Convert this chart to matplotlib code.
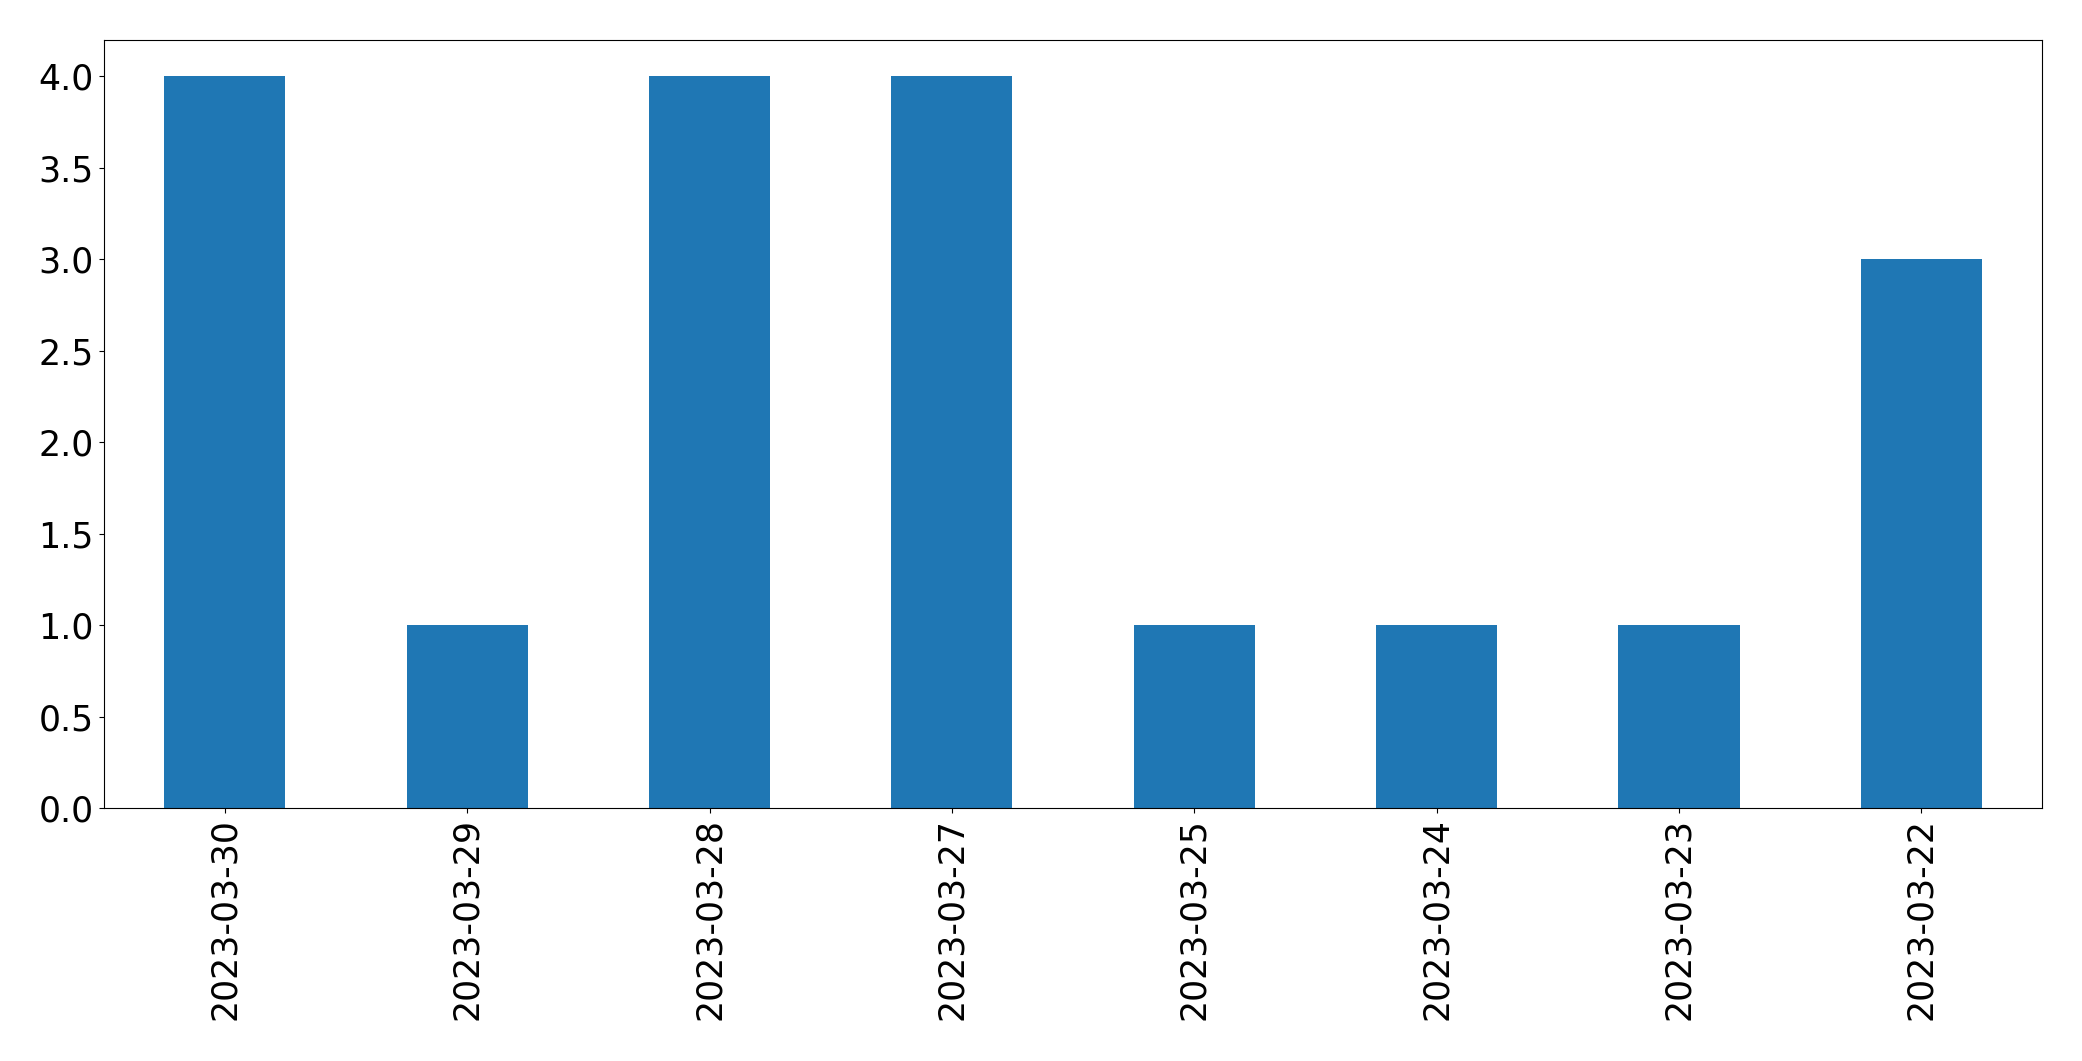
import pandas as pd
import matplotlib.pyplot as plt

# Counts per day
dates = ['2023-03-30', '2023-03-29', '2023-03-28', '2023-03-27',
         '2023-03-25', '2023-03-24', '2023-03-23', '2023-03-22']
counts = [4, 1, 4, 4, 1, 1, 1, 3]

s = pd.Series(counts, index=dates)

fig = plt.figure(figsize=(20.82, 10.61), dpi=100)
ax = fig.add_axes([0.0498, 0.238, 0.9312, 0.7245])
s.plot(kind='bar', ax=ax, color='#1f77b4', fontsize=25)
ax.set_yticks([0, 0.5, 1.0, 1.5, 2.0, 2.5, 3.0, 3.5, 4.0])
ax.set_xlabel("")

fig.savefig("out.png", dpi=100)
